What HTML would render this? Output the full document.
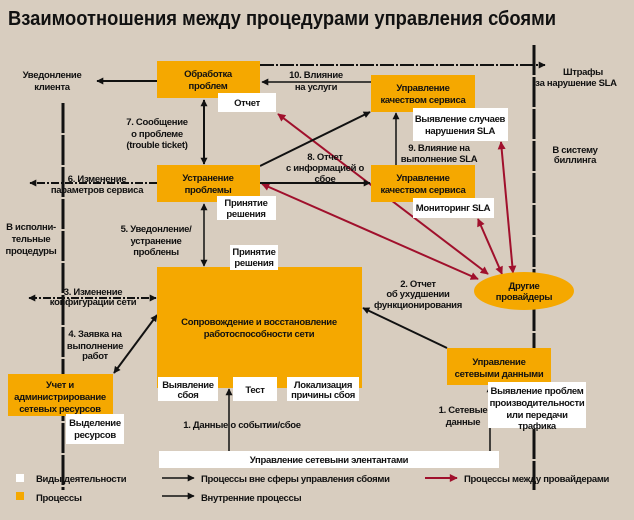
<!DOCTYPE html>
<html><head><meta charset="utf-8"><style>
html,body{margin:0;padding:0;background:#d8cdbf;}
svg{display:block;}
text{font-family:"Liberation Sans","DejaVu Sans",sans-serif;font-size:9.5px;font-weight:bold;letter-spacing:-0.3px;fill:#111;}
.t{text-anchor:middle;}
</style></head><body>
<svg width="634" height="520" viewBox="0 0 634 520" xmlns="http://www.w3.org/2000/svg">
<defs>
<marker id="ab" viewBox="0 0 10 10" refX="9" refY="5" markerWidth="9" markerHeight="7" orient="auto-start-reverse" markerUnits="userSpaceOnUse"><path d="M0,0L10,5L0,10z" fill="#111"/></marker>
<marker id="ar" viewBox="0 0 10 10" refX="9" refY="5" markerWidth="10" markerHeight="8" orient="auto-start-reverse" markerUnits="userSpaceOnUse"><path d="M0,0L10,5L0,10z" fill="#a0102c"/></marker>
</defs>
<rect width="634" height="520" fill="#d8cdbf"/>
<text x="8" y="25" style="font-size:20px;font-weight:bold;letter-spacing:0" textLength="548" lengthAdjust="spacingAndGlyphs">Взаимоотношения между процедурами управления сбоями</text>

<line x1="63" y1="103" x2="63" y2="490" stroke="#111" stroke-width="3" stroke-dasharray="30 2"/>
<line x1="534" y1="45" x2="534" y2="490" stroke="#111" stroke-width="3" stroke-dasharray="30 2"/>

<line x1="260" y1="65" x2="545" y2="65" stroke="#111" stroke-width="2" stroke-dasharray="14 2 2 2" marker-end="url(#ab)"/>

<g stroke="#a0102c" stroke-width="2" fill="none">
<line x1="278" y1="114" x2="488" y2="274" marker-start="url(#ar)" marker-end="url(#ar)"/>
<line x1="262" y1="184" x2="478" y2="279" marker-start="url(#ar)" marker-end="url(#ar)"/>
<line x1="478" y1="219" x2="502" y2="274" marker-start="url(#ar)" marker-end="url(#ar)"/>
<line x1="501" y1="142" x2="513" y2="273" marker-start="url(#ar)" marker-end="url(#ar)"/>
</g>

<g stroke="#111" stroke-width="2" fill="none">
<line x1="157" y1="81" x2="97" y2="81" marker-end="url(#ab)"/>
<line x1="371" y1="82" x2="262" y2="82" stroke-width="1.5" marker-end="url(#ab)"/>
<line x1="204" y1="100" x2="204" y2="164" marker-start="url(#ab)" marker-end="url(#ab)"/>
<line x1="204" y1="204" x2="204" y2="266" stroke-width="1.5" marker-start="url(#ab)" marker-end="url(#ab)"/>
<line x1="157" y1="183" x2="30" y2="183" stroke-dasharray="8 2 2 2" marker-end="url(#ab)"/>
<line x1="29" y1="298" x2="156" y2="298" stroke-dasharray="8 2 2 2" marker-start="url(#ab)" marker-end="url(#ab)"/>
<line x1="114" y1="373" x2="157" y2="315" marker-start="url(#ab)" marker-end="url(#ab)"/>
<line x1="260" y1="166" x2="370" y2="112" marker-end="url(#ab)"/>
<line x1="260" y1="183" x2="370" y2="183" marker-end="url(#ab)"/>
<line x1="396" y1="165" x2="396" y2="113" stroke-width="1.5" marker-end="url(#ab)"/>
<line x1="447" y1="348" x2="363" y2="308" marker-end="url(#ab)"/>
<line x1="229" y1="451" x2="229" y2="389" stroke-width="1.5" marker-end="url(#ab)"/>
<line x1="490" y1="451" x2="490" y2="386" stroke-width="1.5" marker-end="url(#ab)"/>
</g>

<g fill="#f5a800">
<rect x="157" y="61" width="103" height="37"/>
<rect x="371" y="75" width="104" height="37"/>
<rect x="157" y="165" width="103" height="37"/>
<rect x="371" y="165" width="104" height="37"/>
<rect x="157" y="267" width="205" height="121"/>
<rect x="8" y="374" width="105" height="42"/>
<rect x="447" y="348" width="104" height="37"/>
<ellipse cx="524" cy="291" rx="50" ry="19"/>
</g>

<g fill="#fff">
<rect x="218" y="93" width="58" height="19"/>
<rect x="413" y="108" width="95" height="33"/>
<rect x="217" y="196" width="59" height="24"/>
<rect x="413" y="198" width="81" height="20"/>
<rect x="230" y="245" width="48" height="25"/>
<rect x="158" y="377" width="60" height="24"/>
<rect x="233" y="377" width="44" height="24"/>
<rect x="287" y="377" width="72" height="24"/>
<rect x="66" y="414" width="58" height="30"/>
<rect x="488" y="382" width="98" height="46"/>
<rect x="159" y="451" width="340" height="17"/>
</g>

<g>
<text class="t" x="208" y="77">Обработка</text><text class="t" x="208" y="89">проблем</text>
<text class="t" x="247" y="106">Отчет</text>
<text class="t" x="423" y="91">Управление</text><text class="t" x="423" y="103">качеством сервиса</text>
<text class="t" x="460" y="122">Выявление случаев</text><text class="t" x="460" y="134">нарушения SLA</text>
<text class="t" x="208" y="181">Устранение</text><text class="t" x="208" y="193">проблемы</text>
<text class="t" x="246" y="206">Принятие</text><text class="t" x="246" y="217">решения</text>
<text class="t" x="423" y="181">Управление</text><text class="t" x="423" y="193">качеством сервиса</text>
<text class="t" x="453" y="211">Мониторинг SLA</text>
<text class="t" x="254" y="255">Принятие</text><text class="t" x="254" y="266">решения</text>
<text class="t" x="259" y="325">Сопровождение и восстановление</text><text class="t" x="259" y="337">работоспособности сети</text>
<text class="t" x="188" y="388">Выявление</text><text class="t" x="188" y="398">сбоя</text>
<text class="t" x="255" y="393">Тест</text>
<text class="t" x="323" y="388">Локализация</text><text class="t" x="323" y="398">причины сбоя</text>
<text class="t" x="60" y="388">Учет и</text><text class="t" x="60" y="400">администрирование</text><text class="t" x="60" y="412">сетевых ресурсов</text>
<text class="t" x="95" y="426">Выделение</text><text class="t" x="95" y="438">ресурсов</text>
<text class="t" x="499" y="365">Управление</text><text class="t" x="499" y="377">сетевыми данными</text>
<text class="t" x="537" y="394">Выявление проблем</text><text class="t" x="537" y="406">производительности</text><text class="t" x="537" y="418">или передачи</text><text class="t" x="537" y="429">трафика</text>
<text class="t" x="524" y="289">Другие</text><text class="t" x="524" y="300">провайдеры</text>
<text class="t" x="329" y="463">Управление сетевыни элентантами</text>

<text class="t" x="52" y="78">Уведонление</text><text class="t" x="52" y="90">клиента</text>
<text class="t" x="316" y="78">10. Влияние</text><text class="t" x="316" y="90">на услуги</text>
<text class="t" x="157" y="125">7. Сообщение</text><text class="t" x="157" y="137">о проблеме</text><text class="t" x="157" y="148">(trouble ticket)</text>
<text class="t" x="97" y="182">6. Изменение</text><text class="t" x="97" y="193">параметров сервиса</text>
<text class="t" x="325" y="160">8. Отчет</text><text class="t" x="325" y="171">с информацией о</text><text class="t" x="325" y="182">сбое</text>
<text class="t" x="439" y="151">9. Влияние на</text><text class="t" x="439" y="162">выполнение SLA</text>
<text class="t" x="583" y="75">Штрафы</text>
<text class="t" x="577" y="77" style="display:none"> </text>
<text class="t" x="576" y="77" style="display:none"> </text>
<text class="t" x="576" y="77" style="display:none"> </text>
<text class="t" x="576" y="77" style="display:none"> </text>
<text class="t" x="576" y="77" style="display:none"> </text>
<text class="t" x="576" y="86">за нарушение SLA</text>
<text class="t" x="575" y="153">В систему</text><text class="t" x="575" y="163">биллинга</text>
<text class="t" x="31" y="230">В исполни-</text><text class="t" x="31" y="242">тельные</text><text class="t" x="31" y="254">процедуры</text>
<text class="t" x="156" y="232">5. Уведонление/</text><text class="t" x="156" y="244">устранение</text><text class="t" x="156" y="255">проблены</text>
<text class="t" x="93" y="295">3. Изменение</text><text class="t" x="93" y="305">конфигурации сети</text>
<text class="t" x="95" y="337">4. Заявка на</text><text class="t" x="95" y="349">выполнение</text><text class="t" x="95" y="359">работ</text>
<text class="t" x="418" y="287">2. Отчет</text><text class="t" x="418" y="297">об ухудшении</text><text class="t" x="418" y="308">функционирования</text>
<text class="t" x="463" y="413">1. Сетевые</text><text class="t" x="463" y="425">данные</text>
<text class="t" x="242" y="428">1. Данные о событии/сбое</text>
</g>

<rect x="16" y="474" width="8" height="8" fill="#fff"/>
<text x="36" y="482">Виды деятельности</text>
<rect x="16" y="492" width="8" height="8" fill="#f5a800"/>
<text x="36" y="501">Процессы</text>
<line x1="162" y1="478" x2="194" y2="478" stroke="#111" stroke-width="1.5" marker-end="url(#ab)"/>
<text x="201" y="482">Процессы вне сферы управления сбоями</text>
<line x1="162" y1="496" x2="194" y2="496" stroke="#111" stroke-width="1.5" marker-end="url(#ab)"/>
<text x="201" y="501">Внутренние процессы</text>
<line x1="425" y1="478" x2="457" y2="478" stroke="#a0102c" stroke-width="2" marker-end="url(#ar)"/>
<text x="464" y="482">Процессы между провайдерами</text>
</svg>
</body></html>
